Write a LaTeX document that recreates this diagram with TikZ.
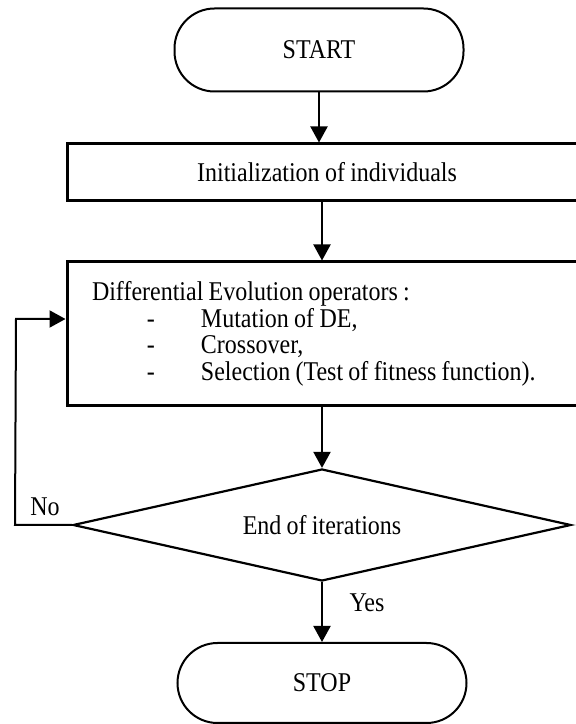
\documentclass[tikz,border=0pt]{standalone}
\usepackage{fontspec}
\setmainfont[FakeStretch=0.885,WordSpace=0.885]{Liberation Serif}
\usetikzlibrary{shapes.geometric,arrows.meta}

\begin{document}
\begin{tikzpicture}[x=1pt,y=1pt,>={Triangle[width=17pt,length=16pt]},
				font=\fontsize{27.1}{26.5}\selectfont,
				term node/.style = {rectangle,draw,line width=2pt,rounded corners=40pt,minimum width=289pt,minimum height=83pt,inner sep=0pt},
				box node/.style = {rectangle,draw,line width=3pt,minimum width=520pt,inner sep=0pt},
				test node/.style = {diamond,draw,line width=2.2pt,aspect=4.4,minimum width=498pt,minimum height=112pt,inner sep=0pt}]
				
				\clip (0,0) rectangle (576,724);
				
				\node[term node] at (319,674) (start) {START};
				\node[box node,minimum height=57pt] [node distance=122.5pt,below of = start,xshift=8pt](init) {Initialization of individuals};
				\node[box node,minimum height=144pt,text width=470pt,align=left] [node distance=161.5pt,below of = init](de) {\spaceskip=0pt\xspaceskip=0pt
					Differential Evolution operators :\\
					\makebox[109pt][l]{\hspace*{55pt}-}Mutation of DE,\\
					\makebox[109pt][l]{\hspace*{55pt}-}Crossover,\\
					\makebox[109pt][l]{\hspace*{55pt}-}Selection (Test of fitness function).};
				\node[test node] [node distance=191pt,below of = de,xshift=-5pt](end) {End of iterations};
				\node[term node,minimum height=80pt] [node distance=158pt,below of = end](stop) {STOP};
				\node at (45,217) (no) {No};
				\node at (367,121) (yes) {Yes};
				\coordinate (c1) at (15,199);
				\coordinate (c2) at (16,405);
				
				\path[->,line width=2pt]
				(start) edge (start |- init.north)
				(end |- init.south) edge (end |- de.north)
				(end |- de.south) edge (end)
				(end) edge (stop);
				\draw[->,line width=2pt] (end.west) -- (c1) -- (c2) -- (c2 -| de.west);
				\end{tikzpicture}
\end{document}
